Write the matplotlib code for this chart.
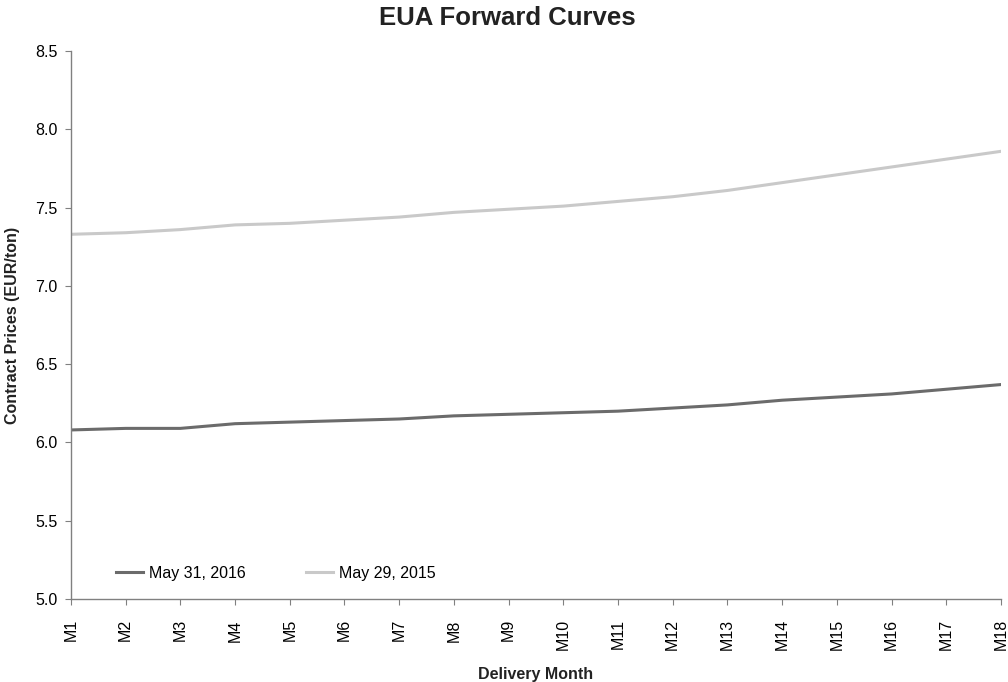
import matplotlib
matplotlib.use('Agg')
import matplotlib.pyplot as plt

plt.rcParams['font.family'] = ['Liberation Sans', 'DejaVu Sans']

# Delivery months
months = ['M%d' % i for i in range(1, 19)]

# Forward curve prices (EUR/ton)
may_2016 = [6.08, 6.09, 6.09, 6.12, 6.13, 6.14, 6.15, 6.17, 6.18,
            6.19, 6.20, 6.22, 6.24, 6.27, 6.29, 6.31, 6.34, 6.37]
may_2015 = [7.33, 7.34, 7.36, 7.39, 7.40, 7.42, 7.44, 7.47, 7.49,
            7.51, 7.54, 7.57, 7.61, 7.66, 7.71, 7.76, 7.81, 7.86]

fig = plt.figure(figsize=(10.08, 6.82), dpi=100)
ax = fig.add_axes([0.0704, 0.1217, 0.9226, 0.8033])

x = range(len(months))
ax.plot(x, may_2016, color='#6b6b6b', lw=2.2, label='May 31, 2016')
ax.plot(x, may_2015, color='#c9c9c9', lw=2.2, label='May 29, 2015')

ax.set_xlim(0, len(months) - 1)
ax.set_ylim(5.0, 8.5)
ax.set_xticks(list(x))
ax.set_xticklabels(months, rotation=90, fontsize=11.5)
ax.set_yticks([5.0, 5.5, 6.0, 6.5, 7.0, 7.5, 8.0, 8.5])
ax.set_yticklabels(['%.1f' % v for v in ax.get_yticks()], fontsize=11.5)

for s in ['top', 'right']:
    ax.spines[s].set_visible(False)
for s in ['left', 'bottom']:
    ax.spines[s].set_color('#808080')
    ax.spines[s].set_linewidth(1.0)
ax.tick_params(axis='both', color='#808080', length=4.5, direction='out')
ax.tick_params(axis='x', pad=10)
ax.tick_params(axis='y', pad=5)

# title is centred on the whole figure, not the axes
fig.text(0.503, 0.963, 'EUA Forward Curves', fontsize=18.5, fontweight='bold',
         ha='center', va='baseline', color='#222222')
ax.set_xlabel('Delivery Month', fontsize=11.5, fontweight='bold', labelpad=12,
              color='#222222')
ax.set_ylabel('Contract Prices (EUR/ton)', fontsize=11.5, fontweight='bold',
              labelpad=11, color='#222222')

ax.legend(loc='center left', bbox_to_anchor=(0.0484, 0.0474), ncol=2, frameon=False,
          fontsize=11.5, handlelength=1.7, handletextpad=0.35, columnspacing=3.8,
          borderpad=0, borderaxespad=0)

fig.savefig('out.png', dpi=100)
